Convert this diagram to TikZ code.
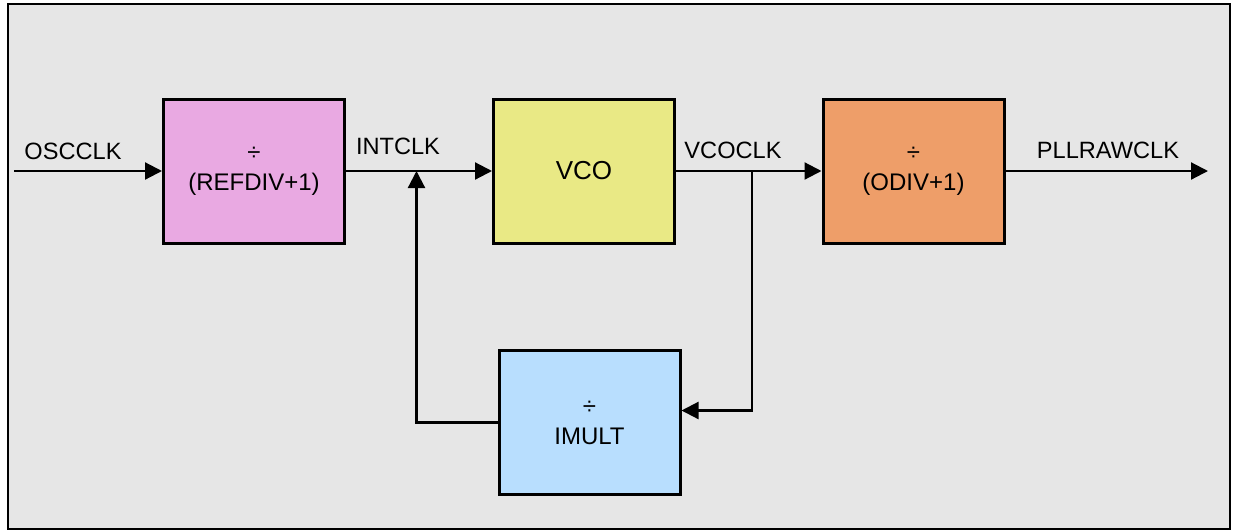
\documentclass[tikz,border=0pt]{standalone}
\usepackage{fontspec}
\setmainfont{Liberation Sans}
\usetikzlibrary{arrows.meta,calc}
\definecolor{bg}{HTML}{E6E6E6}
\definecolor{pinkc}{HTML}{E9A9E2}
\definecolor{yelc}{HTML}{E9E985}
\definecolor{orgc}{HTML}{EE9E69}
\definecolor{bluc}{HTML}{B8DEFE}
\begin{document}
\begin{tikzpicture}[x=0.5pt,y=-0.5pt,
  blk/.style={draw=black,line width=1.5pt,minimum width=90.5pt,minimum height=72pt,
    inner sep=0pt,align=center,font=\fontsize{12}{15}\selectfont},
  conn/.style={line width=1.1pt,-{Triangle[length=8.5pt,width=8.5pt]}},
  lbl/.style={font=\fontsize{11.8}{14}\selectfont,inner sep=0pt}]
\useasboundingbox (0,0) rectangle (1233,531);
\draw[fill=bg,line width=1.3pt] (8,4) rectangle (1230,529);

\node[blk,fill=pinkc] (ref) at (254,171) {÷\\(REFDIV+1)};
\node[blk,fill=yelc,font=\fontsize{13}{15}\selectfont] (vco) at (584,171) {VCO};
\node[blk,fill=orgc] (odiv) at (913.5,171) {÷\\(ODIV+1)};
\node[blk,fill=bluc] (imult) at (589.5,422.5) {÷\\IMULT};

\coordinate (in) at (14,171);
\coordinate (out) at (1208,171);
\coordinate (br) at (752,171);
\coordinate (fb) at (416.5,171);

\draw[conn] (in) -- (ref.west);
\draw[conn] (ref.east) -- (vco.west);
\draw[conn] (vco.east) -- (odiv.west);
\draw[conn] (odiv.east) -- (out);
\draw[conn] (br) |- ($(imult.east)+(0,-12)$);
\draw[conn] (imult.west) -| (fb);

\node[lbl] (losc) at (73,151) {OSCCLK};
\node[lbl] (lint) at (398,146) {INTCLK};
\node[lbl] (lvco) at (733,150) {VCOCLK};
\node[lbl] (lpll) at (1108,150.5) {PLLRAWCLK};
\end{tikzpicture}
\end{document}
